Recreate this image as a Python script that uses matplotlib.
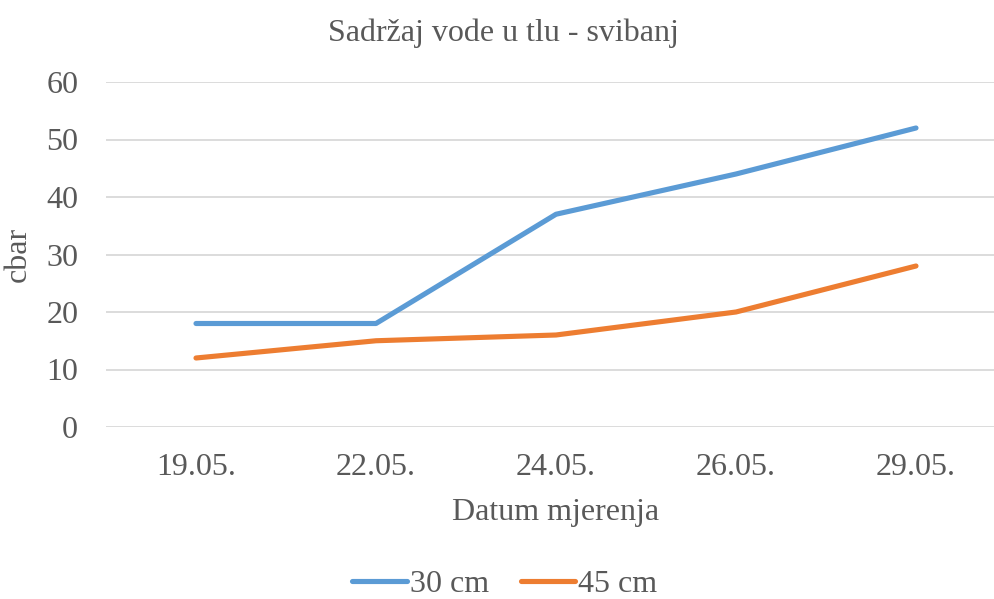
import matplotlib.pyplot as plt

dates = ['19.05.', '22.05.', '24.05.', '26.05.', '29.05.']
cm30 = [18, 18, 37, 44, 52]
cm45 = [12, 15, 16, 20, 28]

plt.rcParams['font.family'] = ['Liberation Serif', 'DejaVu Serif']
grey = '#595959'

fig = plt.figure(figsize=(9.95, 5.99), dpi=100)
ax = fig.add_axes([106 / 995, 1 - 427 / 599, 900 / 995, 345 / 599])

x = list(range(len(dates)))
ax.plot(x, cm30, color='#5B9BD5', lw=3.7, solid_capstyle='round', label='30 cm')
ax.plot(x, cm45, color='#ED7D31', lw=3.7, solid_capstyle='round', label='45 cm')

ax.set_xlim(-0.5, len(dates) - 0.5)
ax.set_ylim(0, 60)
ax.set_yticks(range(0, 61, 10))
ax.set_xticks(x)
ax.set_xticklabels(dates)
ax.grid(axis='y', color='#D9D9D9', lw=1.3)
ax.set_axisbelow(True)
for s in ax.spines.values():
    s.set_visible(False)
ax.tick_params(length=0, labelsize=23, labelcolor=grey)
ax.tick_params(axis='y', pad=20)
ax.tick_params(axis='x', pad=19)

ax.set_xlabel('Datum mjerenja', fontsize=23, color=grey, labelpad=11)
ax.set_ylabel('cbar', fontsize=23, color=grey, labelpad=10)
fig.text(503 / 995, 1 - 33 / 599, 'Sadržaj vode u tlu - svibanj', fontsize=23,
         color=grey, ha='center', va='center')

leg = fig.legend(loc='center', bbox_to_anchor=(505 / 995, 1 - 584 / 599), ncol=2,
                 frameon=False, fontsize=23, handlelength=1.7, handletextpad=0.1,
                 columnspacing=1.0, labelcolor=grey)

fig.savefig('out.png', dpi=100)
